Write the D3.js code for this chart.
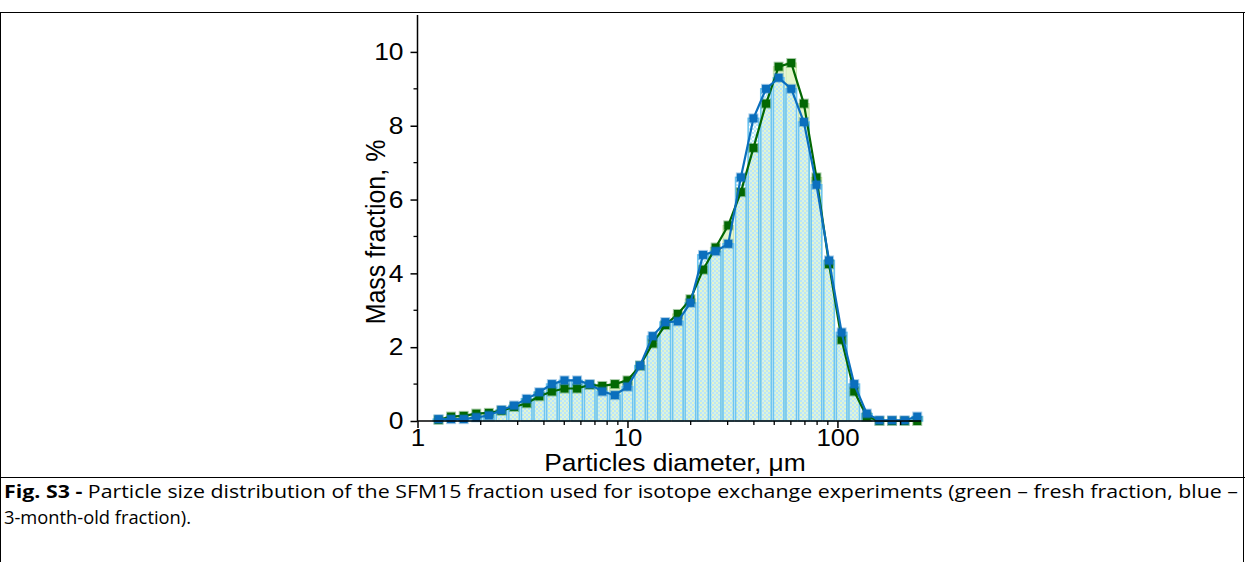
<!DOCTYPE html>
<html>
<head>
<meta charset="utf-8">
<script src="https://cdn.jsdelivr.net/npm/d3@7/dist/d3.min.js"></script>
<style>
  body { margin: 0; background: #fff; }
  svg { display: block; }
</style>
</head>
<body>
<div id="chart"></div>
<script>
// particle diameters, um (instrument size classes)
const sizes = [1.259, 1.445, 1.660, 1.905, 2.188, 2.512, 2.884, 3.311, 3.802, 4.365,
  5.012, 5.754, 6.607, 7.586, 8.710, 10.00, 11.48, 13.18, 15.14, 17.38,
  19.95, 22.91, 26.30, 30.20, 34.67, 39.81, 45.71, 52.48, 60.26, 69.18,
  79.43, 91.20, 104.7, 120.2, 138.0, 158.5, 182.0, 208.9, 239.9];

// mass fraction, % - green = fresh fraction
const fresh = [0.03, 0.12, 0.14, 0.20, 0.22, 0.28, 0.38, 0.48, 0.67, 0.80,
  0.88, 0.88, 0.98, 0.95, 1.00, 1.10, 1.50, 2.10, 2.60, 2.90,
  3.30, 4.10, 4.70, 5.30, 6.20, 7.40, 8.60, 9.60, 9.70, 8.60,
  6.60, 4.25, 2.20, 0.80, 0.12, 0.00, 0.00, 0.00, 0.00];

// blue = 3-month-old fraction
const old = [0.05, 0.05, 0.05, 0.10, 0.15, 0.30, 0.42, 0.60, 0.78, 1.00,
  1.10, 1.10, 1.00, 0.80, 0.70, 0.93, 1.50, 2.30, 2.68, 2.70,
  3.20, 4.50, 4.60, 4.80, 6.60, 8.20, 9.00, 9.30, 9.00, 8.10,
  6.40, 4.35, 2.40, 1.00, 0.20, 0.02, 0.02, 0.02, 0.12];

const xTicks = [1, 10, 100];
const yTicks = [0, 2, 4, 6, 8, 10];
const yMinor = [1, 3, 5, 7, 9];

const W = 1245, H = 562;
const svg = d3.select('#chart').append('svg')
  .attr('width', W).attr('height', H);

// pattern for the blue bars (checker)
const defs = svg.append('defs');
const pat = defs.append('pattern')
  .attr('id', 'bluecheck')
  .attr('width', 4).attr('height', 4)
  .attr('patternUnits', 'userSpaceOnUse');
pat.append('rect').attr('x', 0).attr('y', 0).attr('width', 2).attr('height', 2).attr('fill', '#bce6f7');
pat.append('rect').attr('x', 2).attr('y', 2).attr('width', 2).attr('height', 2).attr('fill', '#bce6f7');
pat.append('rect').attr('x', 2).attr('y', 0).attr('width', 2).attr('height', 2).attr('fill', '#d2eff9').attr('opacity', 0.5);

// frame (table cells)
var frame = svg.append('g').attr('stroke', '#000').attr('stroke-width', 1);
frame.append('line').attr('x1', 0).attr('x2', W).attr('y1', 12.5).attr('y2', 12.5);
frame.append('line').attr('x1', 0).attr('x2', W).attr('y1', 477.5).attr('y2', 477.5);
frame.append('line').attr('x1', 0.5).attr('x2', 0.5).attr('y1', 12).attr('y2', H);
frame.append('line').attr('x1', W - 1.5).attr('x2', W - 1.5).attr('y1', 12).attr('y2', H);

var x = d3.scaleLog().domain([1, 250]).range([417.5, 921]);
var y = d3.scaleLinear().domain([0, 11]).range([421, 15]);

// bar edges = geometric midpoints between size classes
function edges(i) {
  var lo = i > 0 ? Math.sqrt(sizes[i - 1] * sizes[i]) : sizes[i] * sizes[i] / Math.sqrt(sizes[i] * sizes[i + 1]);
  var hi = i < sizes.length - 1 ? Math.sqrt(sizes[i] * sizes[i + 1]) : sizes[i] * sizes[i] / Math.sqrt(sizes[i - 1] * sizes[i]);
  return [x(lo), x(hi)];
}

var plot = svg.append('g');

// green bars (fresh)
plot.selectAll('rect.gbar')
  .data(fresh)
  .enter()
  .append('rect')
  .attr('class', 'gbar')
  .attr('x', (d, i) => edges(i)[0] + 1)
  .attr('width', (d, i) => edges(i)[1] - edges(i)[0] - 2)
  .attr('y', d => y(d))
  .attr('height', d => y(0) - y(d))
  .attr('fill', '#e4f6cb')
  .attr('stroke', '#c9e6ac')
  .attr('stroke-width', 1);

// blue bars (old)
plot.selectAll('rect.bbar')
  .data(old)
  .enter()
  .append('rect')
  .attr('class', 'bbar')
  .attr('x', (d, i) => edges(i)[0] + 1)
  .attr('width', (d, i) => edges(i)[1] - edges(i)[0] - 2)
  .attr('y', d => y(d))
  .attr('height', d => y(0) - y(d))
  .attr('fill', 'url(#bluecheck)')
  .attr('stroke', '#6fc6f0')
  .attr('stroke-width', 1.6);

var FONT = 'Liberation Sans, Arial, sans-serif';

// x axis
var xAxis = d3.axisBottom(x)
  .tickValues(xTicks)
  .tickFormat(d3.format('d'))
  .tickSize(7)
  .tickPadding(1);
var minorX = [];
[1, 10, 100].forEach(function (dec) {
  for (var m = 2; m <= 9; m++) {
    if (dec * m <= 250) minorX.push(dec * m);
  }
});

var gx = svg.append('g').attr('transform', 'translate(0,' + y(0) + ')');
gx.append('g')
  .selectAll('line')
  .data(minorX)
  .enter()
  .append('line')
  .attr('x1', d => x(d)).attr('x2', d => x(d))
  .attr('y1', 0).attr('y2', 4)
  .attr('stroke', '#000').attr('stroke-width', 1.3);
gx.call(xAxis);
gx.select('.domain').attr('d', 'M' + x(1) + ',0H' + x(250)).attr('stroke-width', 1.5);
gx.selectAll('.tick line').attr('stroke-width', 1.5);
gx.selectAll('.tick text')
  .attr('font-family', FONT)
  .attr('font-size', 23.5)
  .attr('fill', '#000')
  .attr('transform', 'scale(1.1,1)');

// y axis
var yAxis = d3.axisLeft(y)
  .tickValues(yTicks)
  .tickSize(7)
  .tickPadding(0);
var gy = svg.append('g').attr('transform', 'translate(' + x(1) + ',0)');
gy.append('g')
  .selectAll('line')
  .data(yMinor)
  .enter()
  .append('line')
  .attr('x1', 0).attr('x2', -4)
  .attr('y1', d => y(d)).attr('y2', d => y(d))
  .attr('stroke', '#000').attr('stroke-width', 1.3);
gy.call(yAxis);
gy.select('.domain').attr('d', 'M0,' + y(0) + 'V' + y(11)).attr('stroke-width', 1.5);
gy.selectAll('.tick line').attr('stroke-width', 1.5);
gy.selectAll('.tick text')
  .attr('font-family', FONT)
  .attr('font-size', 24)
  .attr('fill', '#000')
  .attr('x', -14 / 1.1)
  .attr('transform', 'scale(1.1,1)');

// lines + markers
var line = d3.line()
  .x((d, i) => x(sizes[i]))
  .y(d => y(d));

function series(vals, col) {
  plot.append('path')
    .datum(vals)
    .attr('d', line)
    .attr('fill', 'none')
    .attr('stroke', col)
    .attr('stroke-width', 2.2);
  plot.selectAll(null)
    .data(vals)
    .enter()
    .append('rect')
    .attr('x', (d, i) => x(sizes[i]) - 4)
    .attr('y', d => y(d) - 4)
    .attr('width', 8).attr('height', 8)
    .attr('fill', col)
    .attr('stroke', col)
    .attr('stroke-opacity', 0.35)
    .attr('stroke-width', 2);
}
series(fresh, '#036803');
series(old, '#0b6fbd');

// axis titles
svg.append('text')
  .attr('transform', 'translate(675,471) scale(1.1,1)')
  .attr('text-anchor', 'middle')
  .attr('font-family', FONT)
  .attr('font-size', 24)
  .text('Particles diameter, μm');

svg.append('text')
  .attr('transform', 'translate(385,232) scale(1.1,1) rotate(-90)')
  .attr('text-anchor', 'middle')
  .attr('font-family', FONT)
  .attr('font-size', 25)
  .text('Mass fraction, %');

// caption
var cap = svg.append('text')
  .attr('x', 4).attr('y', 498)
  .attr('font-family', 'Open Sans, sans-serif')
  .attr('font-size', 18)
  .attr('textLength', 1234)
  .attr('lengthAdjust', 'spacingAndGlyphs');
cap.append('tspan').attr('font-weight', 'bold').text('Fig. S3 - ');
cap.append('tspan').text('Particle size distribution of the SFM15 fraction used for isotope exchange experiments (green – fresh fraction, blue –');

svg.append('text')
  .attr('x', 4).attr('y', 524)
  .attr('font-family', 'Open Sans, sans-serif')
  .attr('font-size', 18)
  .attr('textLength', 187)
  .attr('lengthAdjust', 'spacingAndGlyphs')
  .text('3-month-old fraction).');
</script>
</body>
</html>
